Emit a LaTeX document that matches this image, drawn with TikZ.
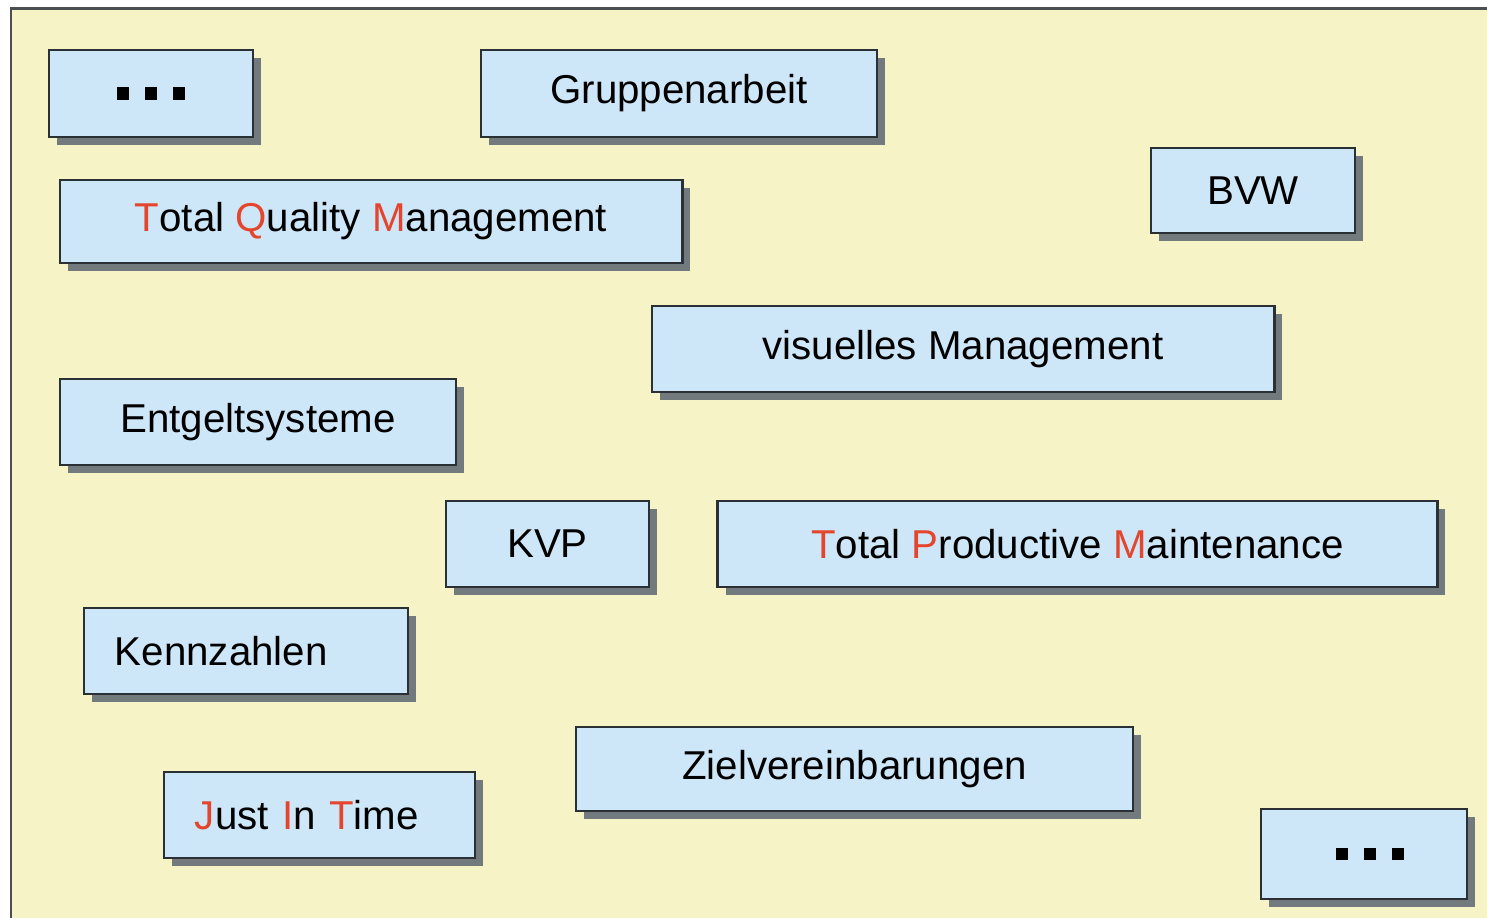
\documentclass[tikz,border=0pt]{standalone}
\usepackage{fontspec}
\setmainfont{Liberation Sans}
\usetikzlibrary{shadows}
\definecolor{panel}{HTML}{F6F4C6}
\definecolor{boxfill}{HTML}{CDE6F8}
\definecolor{boxline}{HTML}{2B3034}
\definecolor{shade}{HTML}{737A7E}
\definecolor{accent}{HTML}{E5452C}
\newcommand{\hl}[1]{\textcolor{accent}{#1}}
% three square dots
\newcommand{\sqdots}{\rule{0.125cm}{0.125cm}\hspace{0.155cm}\rule{0.125cm}{0.125cm}\hspace{0.155cm}\rule{0.125cm}{0.125cm}}
\tikzset{
  tag/.style={draw=boxline, line width=0.75pt, fill=boxfill, rectangle,
    inner sep=0pt, font=\fontsize{11.45}{13}\selectfont,
    drop shadow={shadow xshift=0.08cm, shadow yshift=-0.08cm, fill=shade, opacity=1}},
  lefttag/.style={tag, align=left, inner xsep=0.31cm}
}
\begin{document}
\begin{tikzpicture}[x=0.01cm, y=-0.01cm]
  \useasboundingbox (0,0) rectangle (1487,917);
  \clip (0,0) rectangle (1487,917);
  \fill[white] (0,0) rectangle (1487,917);
  % background panel
  \draw[draw=boxline!85, line width=0.85pt, fill=panel] (11,8) rectangle (1520,950);

  \node[tag, minimum width=2.04cm, minimum height=0.87cm] (dotsA) at (151,93.5) {\sqdots};
  \node[tag, minimum width=3.96cm, minimum height=0.87cm] (grp) at (679,93.5) {Gruppenarbeit};
  \node[tag, minimum width=2.04cm, minimum height=0.85cm] (bvw) at (1253,190.5) {BVW};
  \node[tag, minimum width=6.22cm, minimum height=0.83cm] (tqm) at (371,221.5) {\hl{T}otal \hl{Q}uality \hl{M}anagement};
  \node[tag, minimum width=6.22cm, minimum height=0.86cm] (vis) at (963,349) {visuelles Management};
  \node[tag, minimum width=3.96cm, minimum height=0.86cm] (ent) at (258,422) {Entgeltsysteme};
  \node[tag, minimum width=2.03cm, minimum height=0.86cm] (kvp) at (547.5,544) {KVP};
  \node[tag, minimum width=7.19cm, minimum height=0.86cm] (tpm) at (1077.5,544) {\hl{T}otal \hl{P}roductive \hl{M}aintenance};
  \node[lefttag, text width=2.62cm, minimum height=0.86cm] (kz) at (246,651) {Kennzahlen};
  \node[tag, minimum width=5.57cm, minimum height=0.84cm] (ziel) at (854.5,769) {Zielvereinbarungen};
  \node[lefttag, text width=2.49cm, minimum height=0.86cm] (jit) at (319.5,815) {\hl{J}ust \hl{I}n \hl{T}ime};
  \node[tag, minimum width=2.06cm, minimum height=0.90cm] (dotsB) at (1364,854) {\hspace{0.12cm}\sqdots};
\end{tikzpicture}
\end{document}
